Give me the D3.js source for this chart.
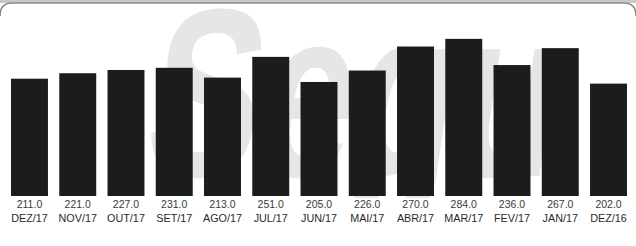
<!DOCTYPE html>
<html><head><meta charset="utf-8">
<script src="https://cdn.jsdelivr.net/npm/d3@7/dist/d3.min.js"></script>
<style>html,body{margin:0;padding:0;background:#fff;}svg{display:block;}</style>
</head><body>
<script>
const months = ["DEZ/17","NOV/17","OUT/17","SET/17","AGO/17","JUL/17","JUN/17","MAI/17","ABR/17","MAR/17","FEV/17","JAN/17","DEZ/16"];
const values = [211.0,221.0,227.0,231.0,213.0,251.0,205.0,226.0,270.0,284.0,236.0,267.0,202.0];
const valueLabels = values.map(v => v.toFixed(1));

const W = 636, H = 246;
const svg = d3.select("body").append("svg").attr("width", W).attr("height", H);

svg.append("defs").append("clipPath").attr("id", "wm")
  .append("rect").attr("x", 0).attr("y", 4).attr("width", W).attr("height", 194);

// frame (top band of rounded box)
svg.append("rect").attr("x", -2).attr("y", 0).attr("width", W + 4).attr("height", 3).attr("fill", "#c8c8c8");
svg.append("path")
  .attr("d", `M0,16 Q0,3 12,3 L${W-12},3 Q${W},3 ${W},16`)
  .attr("fill", "none").attr("stroke", "#8a8a8a").attr("stroke-width", 1.6);

// watermark
svg.append("g").attr("clip-path", "url(#wm)").append("text")
  .attr("transform", "translate(140,176) scale(0.7,1) skewX(-12)")
  .attr("font-family", "Liberation Sans, Arial, sans-serif")
  .attr("font-weight", "bold")
  .attr("font-size", 240)
  .attr("fill", "#e6e6e6")
  .text("Segu");

const x = d3.scaleBand().domain(months).range([11, 627]).paddingInner(0.234).paddingOuter(0);
const y = d3.scaleLinear().domain([-4, 290]).range([196, 35.6]);

svg.append("g").selectAll("rect").data(values).join("rect")
  .attr("x", (d, i) => x(months[i]))
  .attr("y", d => y(d))
  .attr("width", x.bandwidth())
  .attr("height", d => y(-4) - y(d))
  .attr("fill", "#1c1c1c");

svg.append("g").selectAll("text").data(valueLabels).join("text")
  .attr("x", (d, i) => x(months[i]) + x.bandwidth() / 2)
  .attr("y", 207.5)
  .attr("text-anchor", "middle")
  .attr("font-family", "Liberation Sans, Arial, sans-serif")
  .attr("font-size", 10.5)
  .attr("fill", "#3a3a3a")
  .text(d => d);

const xAxis = d3.axisBottom(x).tickSize(0).tickPadding(0);
const ax = svg.append("g").attr("transform", "translate(0,214)").call(xAxis);
ax.select(".domain").remove();
ax.selectAll("text")
  .attr("dy", "0.71em")
  .attr("font-family", "Liberation Sans, Arial, sans-serif")
  .attr("font-size", 10.8)
  .attr("fill", "#2a2a2a");
</script>
</body></html>
